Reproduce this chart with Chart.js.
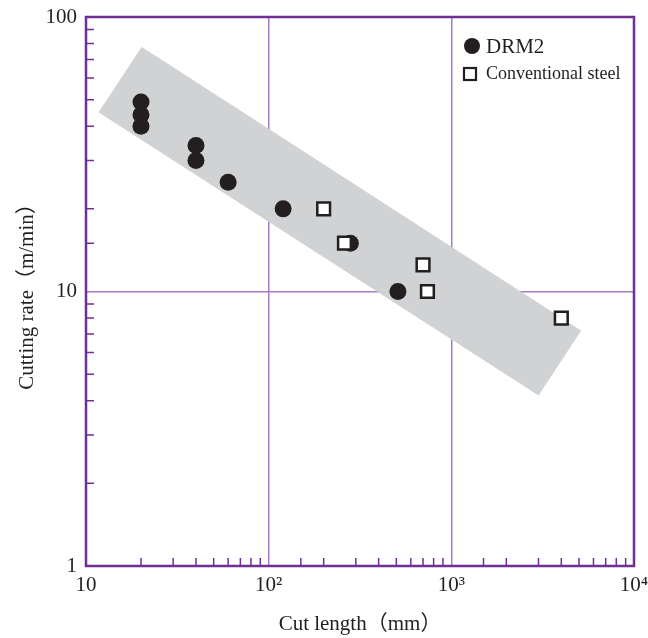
<!DOCTYPE html>
<html>
<head>
<meta charset="utf-8">
<script src="https://cdn.jsdelivr.net/npm/chart.js@4.4.1/dist/chart.umd.min.js"></script>
<style>
  html, body { margin: 0; padding: 0; background: #fff; }
  #wrap { width: 648px; height: 638px; }
</style>
</head>
<body>
<div id="wrap"><canvas id="cutChart"></canvas></div>
<script>
// values
const drmLength = [20, 20, 20, 40, 40, 60, 120, 280, 510];
const drmRate = [49, 44, 40, 34, 30, 25, 20, 15, 10];
const steelLength = [200, 260, 700, 740, 4000];
const steelRate = [20, 15, 12.5, 10, 8];
// shaded band corners (clockwise)
const bandLength = [20.2, 5100, 3000, 11.8, 20.2];
const bandRate = [77.5, 7.2, 4.2, 45, 77.5];

const xTickText = { 10: '10', 100: '10²', 1000: '10³', 10000: '10⁴' };
const yTickText = { 1: '1', 10: '10', 100: '100' };

const frameColor = '#702f94';
const gridColor = '#a77cc6';
const fontFamily = '"Liberation Serif", "Noto Sans CJK JP", serif';

function toPoints(xs, ys) {
    return xs.map((x, i) => ({ x: x, y: ys[i] }));
}

function isDecade(v) {
    const e = Math.log10(v);
    return Math.abs(e - Math.round(e)) < 1e-6;
}

// frame around plot + short inward minor ticks
const frameTicks = {
    id: 'frameTicks',
    afterDatasetsDraw(chart) {
        const { ctx, chartArea: a, scales } = chart;
        ctx.save();
        ctx.strokeStyle = frameColor;
        ctx.lineWidth = 1.5;
        ctx.beginPath();
        scales.x.ticks.forEach(t => {
            if (isDecade(t.value)) return;
            const px = scales.x.getPixelForValue(t.value);
            ctx.moveTo(px, a.bottom);
            ctx.lineTo(px, a.bottom - 8);
        });
        scales.y.ticks.forEach(t => {
            if (isDecade(t.value)) return;
            const py = scales.y.getPixelForValue(t.value);
            ctx.moveTo(a.left, py);
            ctx.lineTo(a.left + 8, py);
        });
        ctx.stroke();
        ctx.lineWidth = 2.5;
        ctx.strokeRect(a.left, a.top, a.right - a.left, a.bottom - a.top);
        ctx.restore();
    }
};

// legend drawn inside the top right corner
const innerLegend = {
    id: 'innerLegend',
    afterDraw(chart) {
        const { ctx } = chart;
        const ds = chart.data.datasets;
        ctx.save();
        ctx.textBaseline = 'middle';
        ctx.fillStyle = '#231f20';
        // circle entry
        ctx.beginPath();
        ctx.arc(472, 46, 8, 0, Math.PI * 2);
        ctx.fill();
        ctx.font = '21px ' + fontFamily;
        ctx.fillText(ds[1].label, 486, 47);
        // square entry
        ctx.fillStyle = '#fff';
        ctx.strokeStyle = '#231f20';
        ctx.lineWidth = 2.2;
        ctx.fillRect(464, 68, 12, 12);
        ctx.strokeRect(464, 68, 12, 12);
        ctx.fillStyle = '#231f20';
        ctx.font = '18px ' + fontFamily;
        ctx.fillText(ds[2].label, 486, 74);
        ctx.restore();
    }
};

var ctx = document.getElementById('cutChart').getContext('2d');
var cutChart = new Chart(ctx, {
    type: 'scatter',
    data: {
        datasets: [
            {
                label: 'band',
                type: 'line',
                data: toPoints(bandLength, bandRate),
                showLine: true,
                fill: 'shape',
                backgroundColor: '#d1d2d4',
                borderColor: '#d1d2d4',
                borderWidth: 1,
                pointRadius: 0,
                tension: 0,
                order: 5
            },
            {
                label: 'DRM2',
                data: toPoints(drmLength, drmRate),
                pointStyle: 'circle',
                pointRadius: 8.5,
                backgroundColor: '#231f20',
                borderColor: '#231f20',
                borderWidth: 0,
                order: 2
            },
            {
                label: 'Conventional steel',
                data: toPoints(steelLength, steelRate),
                pointStyle: 'rect',
                pointRadius: 9,
                backgroundColor: '#ffffff',
                borderColor: '#231f20',
                borderWidth: 2.5,
                order: 1
            }
        ]
    },
    options: {
        responsive: true,
        maintainAspectRatio: false,
        animation: false,
        layout: {
            padding: { top: 17, right: 14, left: 0, bottom: 0 }
        },
        plugins: {
            legend: { display: false },
            tooltip: { enabled: false }
        },
        scales: {
            x: {
                type: 'logarithmic',
                min: 10,
                max: 10000,
                afterFit: s => { s.height = 72; s.paddingRight = 0; s.paddingLeft = 0; },
                border: { display: false },
                grid: {
                    drawTicks: false,
                    lineWidth: 1.5,
                    color: c => (c.tick && isDecade(c.tick.value)) ? gridColor : 'rgba(0,0,0,0)'
                },
                ticks: {
                    autoSkip: false,
                    maxRotation: 0,
                    padding: 7,
                    color: '#231f20',
                    font: { family: fontFamily, size: 21 },
                    callback: v => xTickText[v] || ''
                },
                title: {
                    display: true,
                    text: 'Cut length（mm）',
                    color: '#231f20',
                    font: { family: fontFamily, size: 21 },
                    padding: { top: 0, bottom: 1 }
                }
            },
            y: {
                type: 'logarithmic',
                min: 1,
                max: 100,
                afterFit: s => { s.width = 86; s.paddingTop = 0; s.paddingBottom = 0; },
                border: { display: false },
                grid: {
                    drawTicks: false,
                    lineWidth: 1.5,
                    color: c => (c.tick && isDecade(c.tick.value)) ? gridColor : 'rgba(0,0,0,0)'
                },
                ticks: {
                    autoSkip: false,
                    padding: 9,
                    color: '#231f20',
                    font: { family: fontFamily, size: 21 },
                    callback: v => yTickText[v] || ''
                },
                title: {
                    display: true,
                    text: 'Cutting rate（m/min）',
                    color: '#231f20',
                    font: { family: fontFamily, size: 21 },
                    padding: { top: 15, bottom: 0 }
                }
            }
        }
    },
    plugins: [frameTicks, innerLegend]
});
</script>
</body>
</html>
